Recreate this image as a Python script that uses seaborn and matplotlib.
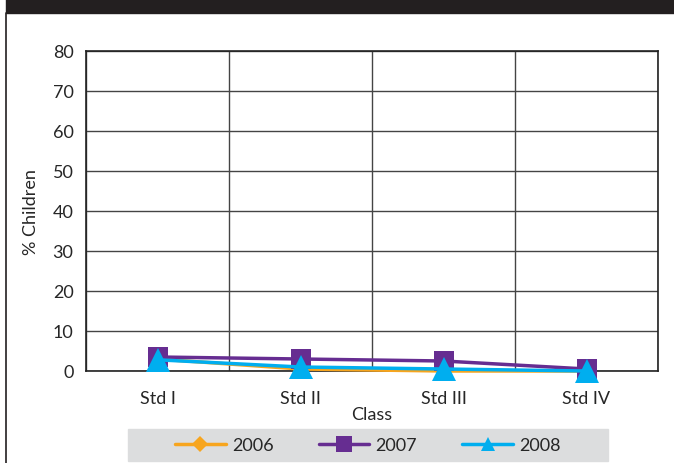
import numpy as np
import pandas as pd
import seaborn as sns
import matplotlib.pyplot as plt
from matplotlib.lines import Line2D
from matplotlib.patches import Rectangle

# data
classes = ["Std I", "Std II", "Std III", "Std IV"]
years = ["2006", "2007", "2008"]
pct_2006 = [3.0, 0.5, 0.0, 0.0]
pct_2007 = [3.5, 3.0, 2.5, 0.5]
pct_2008 = [2.8, 1.0, 0.5, 0.0]

colors = {"2006": "#F7A51E", "2007": "#662D91", "2008": "#00AEEF"}
markers = {"2006": "D", "2007": "s", "2008": "^"}
msize = {"2006": 9, "2007": 15, "2008": 17}

df = pd.DataFrame({
    "Class": classes * 3,
    "pos": list(range(4)) * 3,
    "Year": [y for y in years for _ in classes],
    "pct": pct_2006 + pct_2007 + pct_2008,
})

sns.set_style("white")
plt.rcParams["font.family"] = ["Lato", "DejaVu Sans"]
fs = 13

fig = plt.figure(figsize=(6.74, 4.64), dpi=100)
ax = fig.add_axes([86/674, 92/464, 572/674, 320/464])

for yr in years:
    sub = df[df["Year"] == yr]
    sns.lineplot(data=sub, x="pos", y="pct", ax=ax, color=colors[yr],
                 marker=markers[yr], markersize=msize[yr], markeredgewidth=0,
                 linewidth=2.5, legend=False)
for ln in ax.lines:
    ln.set_clip_on(False)
    ln.set_zorder(5)

ax.set_xlim(-0.5, 3.5)
ax.set_ylim(0, 80)
ax.set_yticks(np.arange(0, 81, 10))
ax.set_xticks(range(4))
ax.set_xticklabels(classes)
ax.set_xticks(np.arange(-0.5, 3.6, 1), minor=True)
ax.tick_params(axis="x", which="major", length=0, pad=14, labelsize=fs)
ax.tick_params(axis="x", which="minor", length=5, width=1, direction="out", color="#333333")
ax.tick_params(axis="y", length=5, width=1, direction="out", color="#333333", labelsize=fs, pad=4)
ax.grid(True, axis="y", which="major", color="#444444", linewidth=1)
ax.grid(True, axis="x", which="minor", color="#444444", linewidth=1)
ax.set_axisbelow(True)
for s in ax.spines.values():
    s.set_color("#222222")
    s.set_linewidth(1.2)
ax.set_xlabel("Class", fontsize=fs, labelpad=0)
ax.set_ylabel("% Children", fontsize=fs, labelpad=10)

# frame decorations of the original figure
fig.patches.append(Rectangle((6/674, 1 - 14/464), 1, 14/464, transform=fig.transFigure,
                             color="#231F20", zorder=0))
fig.add_artist(Line2D([6/674, 6/674], [0, 1 - 14/464], transform=fig.transFigure,
                      color="#231F20", linewidth=1.2))
fig.patches.append(Rectangle((128/674, 2/464), 480/674, 32/464, transform=fig.transFigure,
                             color="#DCDDDE", zorder=0))

handles = [Line2D([], [], color=colors[y], marker=markers[y], linewidth=2.5,
                  markersize={"2006": 8, "2007": 11, "2008": 10}[y], markeredgewidth=0)
           for y in years]
fig.legend(handles, years, loc="center", bbox_to_anchor=(368/674, 18/464), ncol=3,
           frameon=False, fontsize=fs, handlelength=2.8, columnspacing=2.5, handletextpad=0.35)

fig.savefig("out.png", dpi=100)
